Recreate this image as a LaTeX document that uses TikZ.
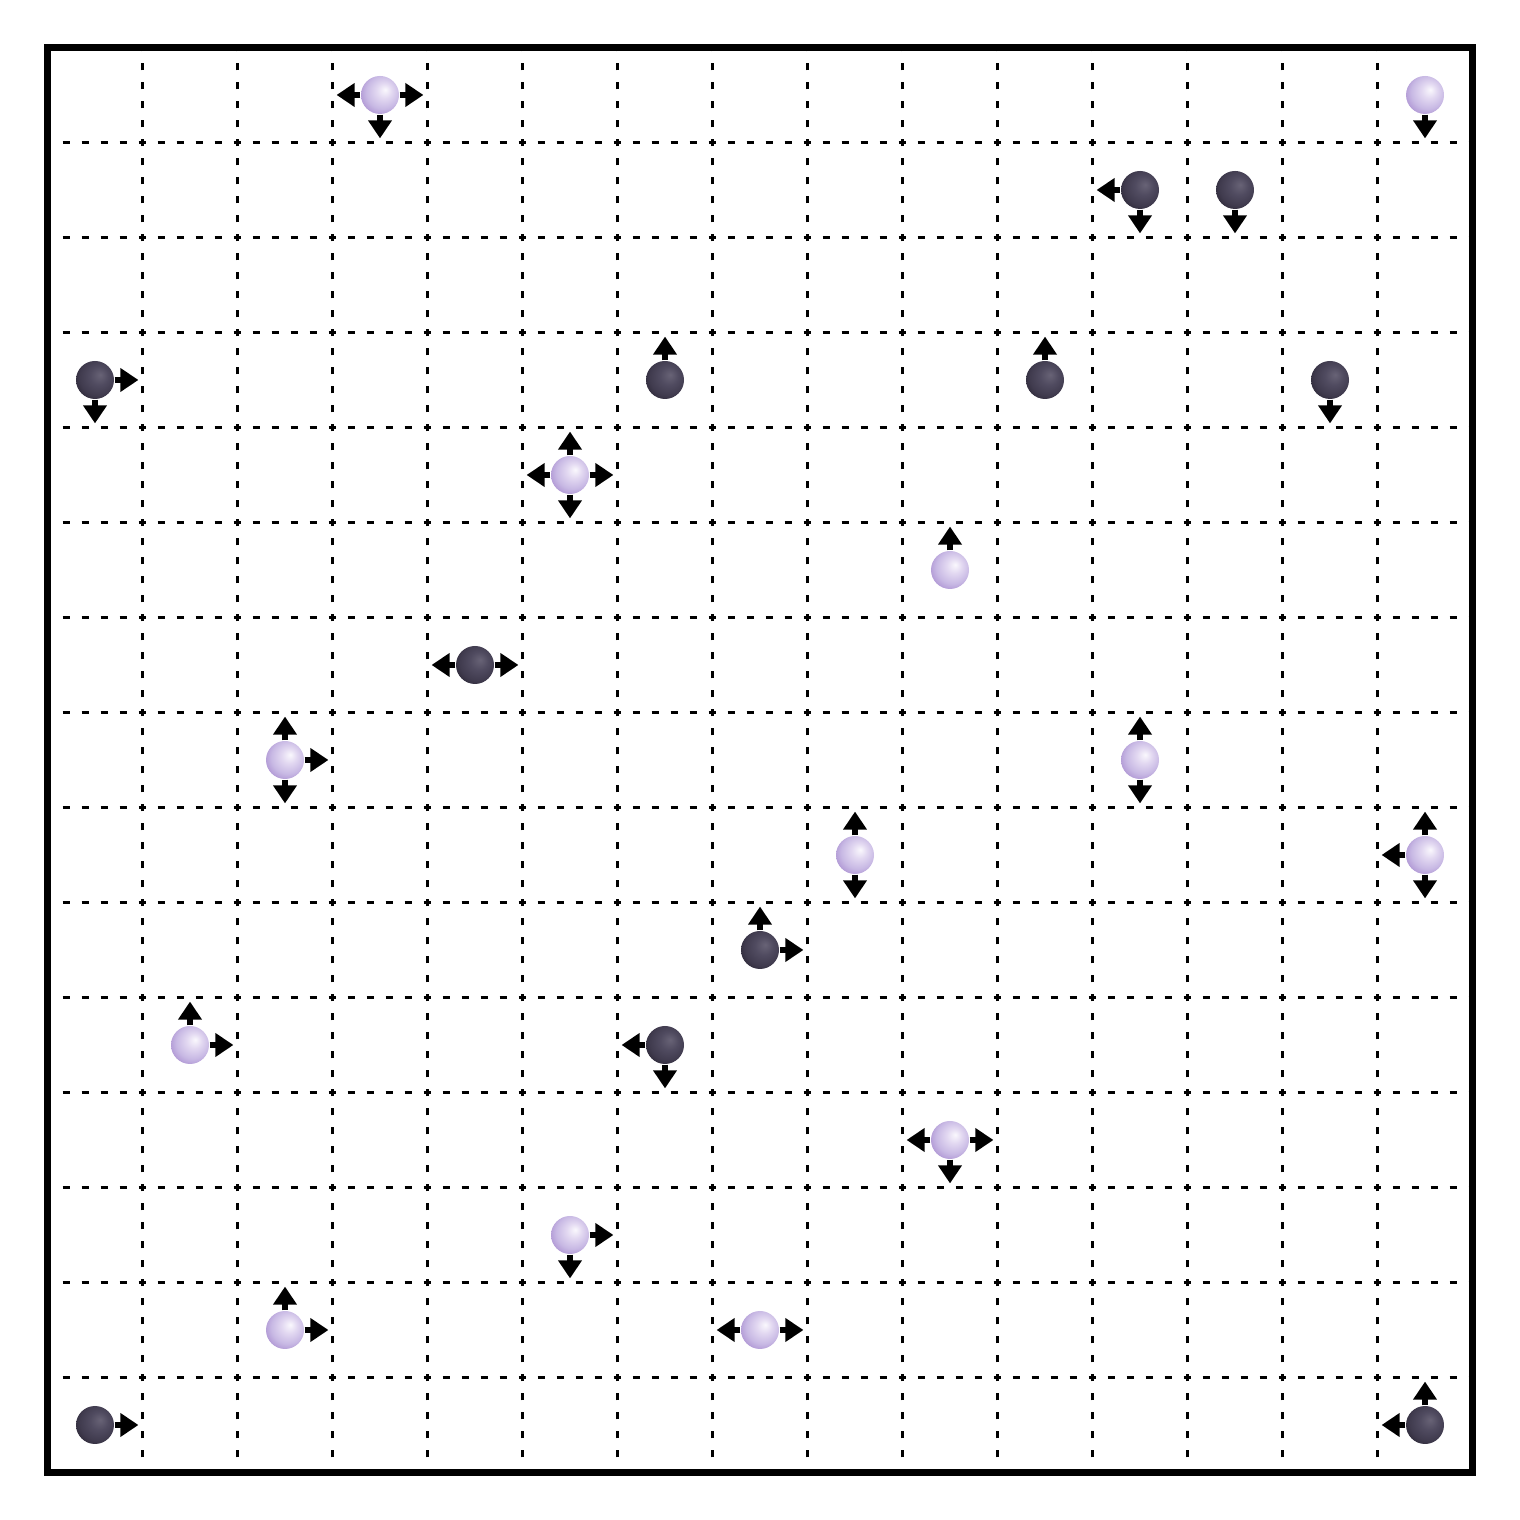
\documentclass[tikz,border=0pt]{standalone}
\usetikzlibrary{arrows.meta}
\definecolor{lavhi}{RGB}{250,248,253}
\definecolor{lavlight}{RGB}{226,216,241}
\definecolor{lavmid}{RGB}{200,185,228}
\definecolor{lavdeep}{RGB}{165,136,205}
\definecolor{inkhi}{RGB}{104,99,118}
\definecolor{inkmid}{RGB}{80,75,96}
\definecolor{inklow}{RGB}{64,59,78}
\definecolor{inkdeep}{RGB}{40,36,50}
\pgfdeclareradialshading{lightball}{\pgfpoint{7bp}{7bp}}{color(0bp)=(lavhi); color(10bp)=(lavlight); color(22bp)=(lavmid); color(34bp)=(lavdeep); color(50bp)=(lavdeep)}
\pgfdeclareradialshading{darkball}{\pgfpoint{7bp}{7bp}}{color(0bp)=(inkhi); color(12bp)=(inkmid); color(24bp)=(inklow); color(34bp)=(inkdeep); color(50bp)=(inkdeep)}
\tikzset{
  gridline/.style={line width=0.95pt,dash pattern=on 0.08cm off 0.12cm,dash phase=0.04cm},
  particle/.style={circle,minimum size=0.4cm,inner sep=0pt},
  L/.style={particle,shading=lightball},
  D/.style={particle,shading=darkball},
  hop/.style={line width=0.055cm,-{Triangle[length=0.19cm,width=0.24cm]}}
}
\begin{document}
\begin{tikzpicture}
\useasboundingbox (-0.5,-0.5) rectangle (15.5,15.5);
% grid
\foreach \i in {1,...,14} {
  \draw[gridline] (\i,0) -- (\i,15);
  \draw[gridline] (0,\i) -- (15,\i);
}
% box
\draw[line width=0.07cm] (0,0) rectangle (15,15);
% particles with their allowed hops
\foreach \n/\x/\y/\s/\d in {
  p1/3.5/14.5/L/{180,0,270}, p2/14.5/14.5/L/{270},
  p3/11.5/13.5/D/{180,270}, p4/12.5/13.5/D/{270},
  p5/0.5/11.5/D/{0,270}, p6/6.5/11.5/D/{90}, p7/10.5/11.5/D/{90}, p8/13.5/11.5/D/{270},
  p9/5.5/10.5/L/{0,90,180,270}, p10/9.5/9.5/L/{90},
  p11/4.5/8.5/D/{0,180},
  p12/2.5/7.5/L/{0,90,270}, p13/11.5/7.5/L/{90,270},
  p14/8.5/6.5/L/{90,270}, p15/14.5/6.5/L/{90,180,270},
  p16/7.5/5.5/D/{0,90},
  p17/1.5/4.5/L/{0,90}, p18/6.5/4.5/D/{180,270},
  p19/9.5/3.5/L/{0,180,270},
  p20/5.5/2.5/L/{0,270},
  p21/2.5/1.5/L/{0,90}, p22/7.5/1.5/L/{0,180},
  p23/0.5/0.5/D/{0}, p24/14.5/0.5/D/{90,180}} {
  \node[\s] (\n) at (\x,\y) {};
  \foreach \a in \d
    \draw[hop] (\n.\a) -- ++(\a:0.25);
}
\end{tikzpicture}
\end{document}
